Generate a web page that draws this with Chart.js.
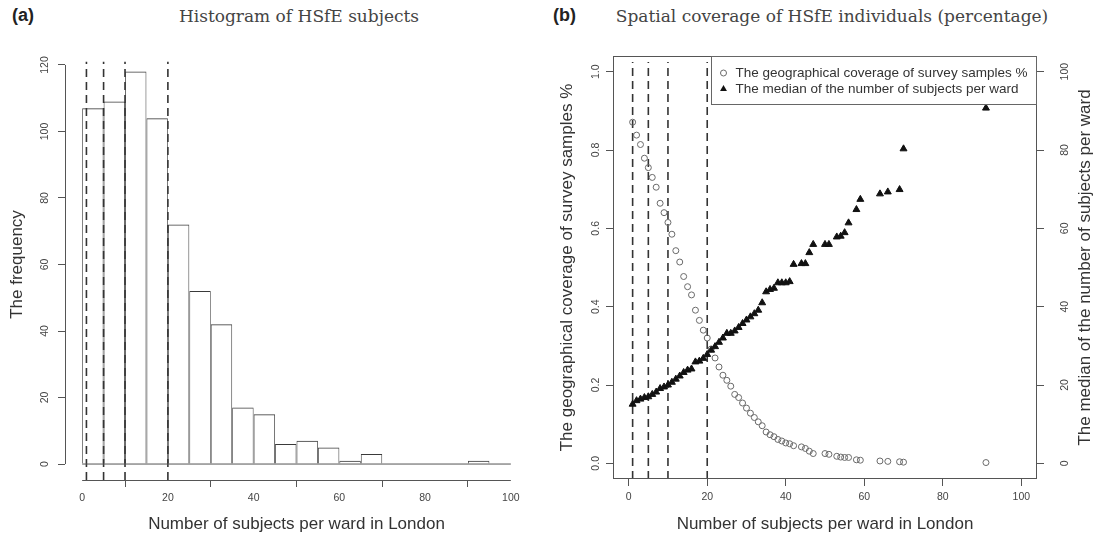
<!DOCTYPE html>
<html>
<head>
<meta charset="utf-8">
<script src="https://cdn.jsdelivr.net/npm/chart.js@4.4.1/dist/chart.umd.min.js"></script>
<style>
  body { margin: 0; background: #fff; }
  #wrap { position: relative; width: 1097px; height: 535px; overflow: hidden; }
  canvas { position: absolute; top: 0; }
  .tag { position: absolute; top: 5px; font: bold 18px "Liberation Sans", Arial, sans-serif; color: #222; }
  .ttl { position: absolute; top: 6px; font: 17px "DejaVu Serif", serif; color: #444; transform: translateX(-50%); white-space: nowrap; }
</style>
</head>
<body>
<div id="wrap">
  <div class="tag" style="left:12px">(a)</div>
  <div class="ttl" style="left:299px">Histogram of HSfE subjects</div>
  <div class="tag" style="left:553px">(b)</div>
  <div class="ttl" style="left:832px">Spatial coverage of HSfE individuals (percentage)</div>
  <canvas id="histChart" width="548" height="535" style="left:0"></canvas>
  <canvas id="coverChart" width="549" height="535" style="left:548px"></canvas>
</div>
<script>
// (a) histogram, bins of 5 subjects
const binStarts = [0, 5, 10, 15, 20, 25, 30, 35, 40, 45, 50, 55, 60, 65, 70, 75, 80, 85, 90, 95];
const binCounts = [107, 109, 118, 104, 72, 52, 42, 17, 15, 6, 7, 5, 1, 3, 0, 0, 0, 0, 1, 0];
const binWidth = 5;

// dashed reference lines, both panels
const cutOffs = [1, 5, 10, 20];

// (b) per threshold of subjects per ward
const wardSizes = [1, 2, 3, 4, 5, 6, 7, 8, 9, 10,
  11, 12, 13, 14, 15, 16, 17, 18, 19, 20,
  21, 22, 23, 24, 25, 26, 27, 28, 29, 30,
  31, 32, 33, 34, 35, 36, 37, 38, 39, 40,
  41, 42, 44, 45, 46, 47, 50, 51, 53, 54,
  55, 56, 58, 59, 64, 66, 69, 70, 91];
const coverage = [0.871, 0.838, 0.814, 0.779, 0.755, 0.730, 0.705, 0.664, 0.640, 0.615,
  0.585, 0.543, 0.514, 0.477, 0.451, 0.430, 0.391, 0.365, 0.340, 0.320,
  0.292, 0.269, 0.246, 0.225, 0.212, 0.197, 0.176, 0.168, 0.154, 0.141,
  0.128, 0.117, 0.106, 0.096, 0.080, 0.073, 0.068, 0.061, 0.057, 0.052,
  0.050, 0.045, 0.042, 0.038, 0.031, 0.025, 0.025, 0.023, 0.018, 0.016,
  0.015, 0.015, 0.009, 0.008, 0.006, 0.005, 0.004, 0.003, 0.002];
const medianSubjects = [15.1, 16.0, 16.4, 16.8, 17.0, 17.6, 18.2, 19.1, 19.5, 20.0,
  20.7, 21.5, 22.3, 23.2, 23.8, 24.1, 25.9, 26.1, 26.8, 27.8,
  28.9, 29.8, 30.9, 32.0, 33.2, 33.2, 33.8, 34.7, 35.7, 36.6,
  37.4, 38.2, 39.1, 41.0, 43.8, 44.4, 44.7, 46.1, 46.1, 46.1,
  46.4, 50.8, 51.0, 51.0, 53.8, 55.9, 55.9, 55.9, 57.8, 58.0,
  58.9, 61.4, 64.8, 67.4, 68.8, 69.3, 69.9, 80.3, 90.7];

const axisFont = '"Liberation Sans", Arial, sans-serif';
const tickColor = '#444';
const lineColor = '#555';

// R style axes: detached axis lines, rotated y labels, box + legend
const rAxes = {
    id: "rAxes",
    afterDraw(chart, args, opts) {
        const { ctx, chartArea: area, scales } = chart;
        ctx.save();
        ctx.strokeStyle = lineColor;
        ctx.lineWidth = 1;
        if (opts.box) {
            ctx.strokeRect(Math.round(area.left) + 0.5, Math.round(area.top) + 0.5,
                Math.round(area.width) - 1, Math.round(area.height) - 1);
        } else {
            // axis line only runs from first to last tick
            const sx = scales.x, sy = scales.y;
            const xt = sx.ticks, yt = sy.ticks;
            const yb = Math.round(area.bottom) + 0.5;
            const xl = Math.round(area.left) + 0.5;
            ctx.beginPath();
            ctx.moveTo(sx.getPixelForValue(xt[0].value), yb);
            ctx.lineTo(sx.getPixelForValue(xt[xt.length - 1].value), yb);
            ctx.moveTo(xl, sy.getPixelForValue(yt[0].value));
            ctx.lineTo(xl, sy.getPixelForValue(yt[yt.length - 1].value));
            ctx.stroke();
        }

        ctx.textAlign = "center";
        ctx.textBaseline = "middle";
        (opts.yAxes || []).forEach(ax => {
            const s = scales[ax.id];
            ctx.fillStyle = tickColor;
            ctx.font = "10.5px " + axisFont;
            s.ticks.forEach(t => {
                ctx.save();
                ctx.translate(ax.labelX, s.getPixelForValue(t.value));
                ctx.rotate(-Math.PI / 2);
                ctx.fillText(t.value.toFixed(ax.digits), 0, 0);
                ctx.restore();
            });
            ctx.fillStyle = "#333";
            ctx.font = "17px " + axisFont;
            ctx.save();
            ctx.translate(ax.titleX, (area.top + area.bottom) / 2);
            ctx.rotate(-Math.PI / 2);
            ctx.fillText(ax.title, 0, 0);
            ctx.restore();
        });

        // legend("topright")
        if (opts.legend) {
            const lg = opts.legend;
            const x0 = Math.round(area.right - lg.width) + 0.5;
            const y0 = Math.round(area.top) + 0.5;
            ctx.strokeStyle = "#666";
            ctx.strokeRect(x0, y0, lg.width - 1, lg.height);
            ctx.font = "13.5px " + axisFont;
            ctx.textAlign = "left";
            chart.data.datasets.filter(d => d.label).forEach((d, i) => {
                const y = y0 + 16.5 + i * 16;
                const cx = x0 + 12;
                const r = d.pointRadius;
                ctx.beginPath();
                if (d.pointStyle === "triangle") {
                    ctx.moveTo(cx, y - r);
                    ctx.lineTo(cx + r * 0.866, y + r / 2);
                    ctx.lineTo(cx - r * 0.866, y + r / 2);
                    ctx.closePath();
                    ctx.fillStyle = d.backgroundColor;
                    ctx.fill();
                } else {
                    ctx.arc(cx, y, r, 0, Math.PI * 2);
                    ctx.strokeStyle = d.borderColor;
                    ctx.stroke();
                }
                ctx.fillStyle = "#333";
                ctx.fillText(d.label, x0 + 24, y + 0.5);
            });
        }
        ctx.restore();
    }
};

function dashed(x, yLow, yHigh, axisId) {
    return {
        type: "line",
        yAxisID: axisId,
        data: [{ x: x, y: yLow }, { x: x, y: yHigh }],
        borderColor: "#333",
        borderWidth: 1.6,
        borderDash: [8, 5],
        pointRadius: 0,
        showLine: true,
        order: 3,
    };
}

function xScale(height) {
    return {
        type: "linear",
        min: -4,
        max: 104,
        afterFit: s => { s.height = height; },
        border: { display: false },
        grid: { drawOnChartArea: false, tickLength: 7, color: lineColor },
        ticks: { stepSize: 20, includeBounds: false, autoSkip: false, maxRotation: 0,
            color: tickColor, padding: 5, font: { family: axisFont, size: 10.5 } },
        title: { display: true, text: "Number of subjects per ward in London", color: "#333",
            padding: { top: 0, bottom: 0 }, font: { family: axisFont, size: 17 } },
    };
}

function yScale(min, max, step, pos, width) {
    return {
        type: "linear",
        position: pos,
        min: min,
        max: max,
        afterFit: s => { s.width = width; },
        border: { display: false },
        grid: { drawOnChartArea: false, tickLength: 7, color: lineColor },
        ticks: { stepSize: step, includeBounds: false, display: false },
    };
}

// Panel (a)
const histCtx = document.getElementById("histChart").getContext("2d");
const histChart = new Chart(histCtx, {
    type: "bar",
    data: {
        datasets: [
            {
                data: binStarts.map((b, i) => ({ x: b + binWidth / 2, y: binCounts[i] })),
                backgroundColor: "rgba(0,0,0,0)",
                borderColor: "#3a3a3a",
                // narrow sides so that shared edges add up to one line
                borderWidth: { top: 1, left: 0.75, right: 0.75, bottom: 0 },
                borderSkipped: false,
                inflateAmount: 0,
                barPercentage: 1,
                categoryPercentage: 1,
                order: 1,
            },
            {
                type: "line",
                data: [{ x: binStarts[0], y: 0 }, { x: binStarts[binStarts.length - 1] + binWidth, y: 0 }],
                borderColor: lineColor,
                borderWidth: 1,
                pointRadius: 0,
                order: 2,
            },
            ...cutOffs.map(c => dashed(c, -4.8, 121, "y")),
        ],
    },
    plugins: [rAxes],
    options: {
        responsive: false,
        animation: false,
        layout: { padding: { top: 49, right: 20, bottom: 0, left: 0 } },
        scales: {
            x: { ...xScale(55), offset: false },
            y: yScale(-4.8, 124.8, 20, "left", 65),
        },
        plugins: {
            legend: { display: false },
            tooltip: { enabled: false },
            rAxes: {
                box: false,
                yAxes: [{ id: "y", labelX: 45, titleX: 17, title: "The frequency", digits: 0 }],
            },
        },
    },
});

// Panel (b)
const coverCtx = document.getElementById("coverChart").getContext("2d");
const coverChart = new Chart(coverCtx, {
    type: "scatter",
    data: {
        datasets: [
            {
                label: "The geographical coverage of survey samples %",
                data: wardSizes.map((w, i) => ({ x: w, y: coverage[i] })),
                yAxisID: "y",
                pointStyle: "circle",
                pointRadius: 3,
                backgroundColor: "rgba(0,0,0,0)",
                borderColor: "#6a6a6a",
                borderWidth: 1,
                order: 1,
            },
            {
                label: "The median of the number of subjects per ward",
                data: wardSizes.map((w, i) => ({ x: w, y: medianSubjects[i] })),
                yAxisID: "y2",
                pointStyle: "triangle",
                pointRadius: 4,
                backgroundColor: "#111",
                borderColor: "#111",
                borderWidth: 1,
                order: 0,
            },
            ...cutOffs.map(c => dashed(c, -0.04, 1.025, "y")),
        ],
    },
    plugins: [rAxes],
    options: {
        responsive: false,
        animation: false,
        layout: { padding: { top: 56, right: 0, bottom: 0, left: 0 } },
        scales: {
            x: xScale(56),
            y: yScale(-0.04, 1.04, 0.2, "left", 65),
            y2: yScale(-4, 104, 20, "right", 60),
        },
        plugins: {
            legend: { display: false },
            tooltip: { enabled: false },
            rAxes: {
                box: true,
                legend: { width: 326, height: 48 },
                yAxes: [
                    { id: "y", labelX: 48, titleX: 19, title: "The geographical coverage of survey samples %", digits: 1 },
                    { id: "y2", labelX: 517, titleX: 537, title: "The median of the number of subjects per ward", digits: 0 },
                ],
            },
        },
    },
});
</script>
</body>
</html>
